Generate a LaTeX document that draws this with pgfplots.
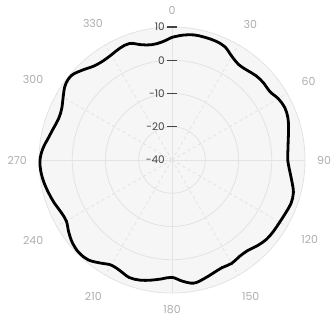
\documentclass[border=0pt]{standalone}
\usepackage{pgfplots}
\pgfplotsset{compat=1.18}
\usepackage{pgfplotstable}
\usepgfplotslibrary{polar}
\usepackage{fontspec}
\setmainfont{Poppins}

\definecolor{gridc}{HTML}{E3E3E3}
\definecolor{bgc}{HTML}{F6F6F6}
\definecolor{angc}{HTML}{ADADAD}
\definecolor{radc}{HTML}{444444}

% theta: compass angle (clockwise from top), v: value
\pgfplotstableread{
theta v
0 6.9
5 7.7
10 8.2
15 8.2
20 8.1
25 7.6
30 6.0
35 5.0
40 5.2
45 5.8
50 6.0
55 5.9
60 6.9
65 7.4
70 7.1
75 6.3
80 5.5
85 5.0
90 4.8
95 5.5
100 6.6
105 7.8
110 8.1
115 7.7
120 7.4
125 7.3
130 7.1
135 6.4
140 5.5
145 5.4
150 5.9
155 5.7
160 6.2
165 7.0
170 7.6
175 6.6
180 5.3
185 5.9
190 6.7
195 7.4
200 7.6
205 6.8
210 6.5
215 7.8
220 9.2
225 9.5
230 9.0
235 7.9
240 6.7
245 6.9
250 7.7
255 8.4
260 9.1
265 9.6
270 9.7
275 9.0
280 7.8
285 6.9
290 6.3
295 6.6
300 7.8
305 9.2
310 9.5
315 8.2
320 6.8
325 6.3
330 6.5
335 7.1
340 7.3
345 5.9
350 5.2
355 5.6
360 6.9
}\gaindata

\begin{document}
\begin{tikzpicture}
\begin{polaraxis}[
  scale only axis, width=266bp, height=266bp,
  xmin=0, xmax=360, ymin=0, ymax=40,
  xtick={0,90,180,270}, xticklabels={90,0,270,180},
  minor xtick={30,60,120,150,210,240,300,330},
  extra x ticks={30,60,120,150,210,240,300,330},
  extra x tick labels={60,30,330,300,240,210,150,120},
  extra x tick style={grid=none},
  ytick={10,20,30}, yticklabels={},
  xmajorgrids, xminorgrids, ymajorgrids,
  major grid style={draw=gridc, line width=0.8bp},
  minor grid style={draw=gridc, line width=0.8bp, dash pattern=on 3bp off 3bp},
  axis line style={draw=gridc, line width=0.8bp},
  tick style={draw=none},
  xticklabel style={font=\fontsize{11}{13}\selectfont, text=angc, inner sep=12bp},
  axis background/.style={fill=bgc},
  clip=false,
]
\coordinate (c) at (axis cs:0,0);
\coordinate (r40) at (axis cs:90,40);
\coordinate (r30) at (axis cs:90,30);
\coordinate (r20) at (axis cs:90,20);
\coordinate (r10) at (axis cs:90,10);
\addplot[black, line width=2.8bp, smooth, tension=0.6]
  table[x expr=90-\thisrow{theta}, y expr=\thisrow{v}+30] {\gaindata};
\end{polaraxis}
\begin{scope}[radc, line width=1.3bp]
\draw ([xshift=-5bp]r40) -- ([xshift=5bp]r40);
\draw ([xshift=-5bp]r30) -- ([xshift=5bp]r30);
\draw ([xshift=-5bp]r20) -- ([xshift=5bp]r20);
\draw ([xshift=-5bp]r10) -- ([xshift=5bp]r10);
\end{scope}
\begin{scope}[every node/.style={anchor=east, text=radc, inner sep=0pt, font=\fontsize{10.5}{12}\selectfont}]
\node at ([xshift=-7bp]r40) {10};
\node at ([xshift=-7bp]r30) {0};
\node at ([xshift=-7bp]r20) {-10};
\node at ([xshift=-7bp]r10) {-20};
\node at ([xshift=-7bp]c) {-40};
\end{scope}
\pgfresetboundingbox
\path[use as bounding box] ([xshift=-172bp,yshift=-158bp]c) rectangle ([xshift=162bp,yshift=160bp]c);
\end{tikzpicture}
\end{document}
